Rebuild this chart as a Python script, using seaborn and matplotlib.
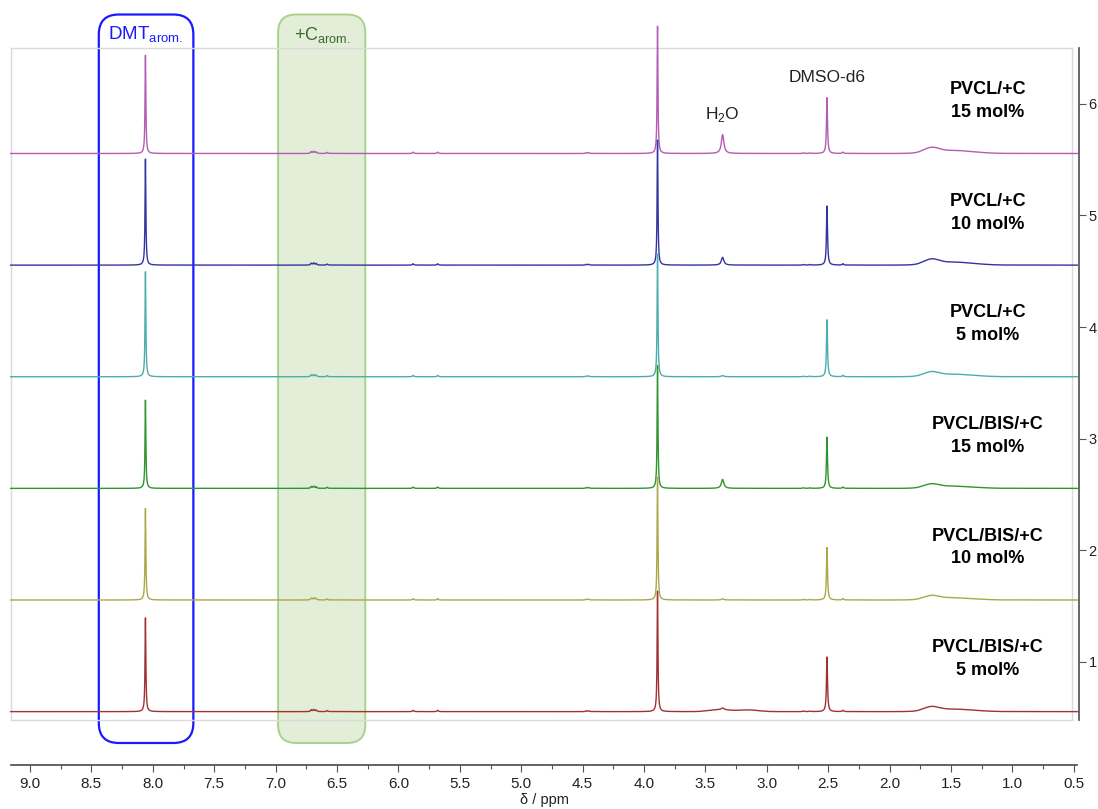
import numpy as np
import pandas as pd
import seaborn as sns
import matplotlib.pyplot as plt
from matplotlib.patches import FancyBboxPatch
from matplotlib.ticker import MultipleLocator, FormatStrFormatter

sns.set_theme(style='white')
plt.rcParams['font.family'] = ['Liberation Sans', 'DejaVu Sans']

# samples, bottom trace first
labels = ['PVCL/BIS/+C\n5 mol%', 'PVCL/BIS/+C\n10 mol%', 'PVCL/BIS/+C\n15 mol%',
          'PVCL/+C\n5 mol%', 'PVCL/+C\n10 mol%', 'PVCL/+C\n15 mol%']
colors = ['#a03232', '#a9a948', '#2f952f', '#4cadad', '#3434a0', '#b35cb3']

# sharp peaks (ppm), heights per trace
dmt_ppm, ome_ppm, dmso_ppm, water_ppm = 8.06, 3.89, 2.51, 3.36
dmt_h = [0.84, 0.82, 0.79, 0.94, 0.95, 0.88]
ome_h = [1.08, 1.10, 1.10, 1.10, 1.12, 1.14]
dmso_h = [0.49, 0.47, 0.46, 0.51, 0.53, 0.50]
water_h = [0.015, 0.01, 0.08, 0.01, 0.07, 0.17]
hump_h = [0.05, 0.045, 0.045, 0.05, 0.06, 0.06]

# small common signals
small_ppm = [6.71, 6.69, 6.67, 6.58, 5.88, 5.68, 4.47, 4.45, 2.70, 2.65, 2.38]
small_h = [0.016, 0.018, 0.015, 0.01, 0.012, 0.012, 0.007, 0.007, 0.005, 0.005, 0.012]

ppm = np.arange(0.47, 9.16, 0.0005)


def lor(x0, h, w):
    return h * w**2 / ((ppm - x0)**2 + w**2)


def gau(x0, h, w):
    return h * np.exp(-0.5 * ((ppm - x0) / w)**2)


spectra = []
for i in range(6):
    y = lor(dmt_ppm, dmt_h[i], 0.004) + lor(ome_ppm, ome_h[i], 0.004)
    y += lor(dmso_ppm, dmso_h[i], 0.005) + lor(water_ppm, water_h[i], 0.012)
    for p, h in zip(small_ppm, small_h):
        y += lor(p, h, 0.006)
    y += gau(1.66, hump_h[i] * 0.7, 0.06) + gau(1.48, hump_h[i] * 0.45, 0.16)
    if i == 0:
        y += gau(3.38, 0.018, 0.08) + gau(3.15, 0.015, 0.08)
    spectra.append(y)

df = pd.DataFrame({'ppm': ppm})
for i, y in enumerate(spectra):
    df[labels[i]] = y + (i + 1) - 0.445

W, H = 1098, 809
fig = plt.figure(figsize=(W / 100, H / 100), dpi=100)

ov = fig.add_axes([0, 0, 1, 1], zorder=0)
ov.set_xlim(0, W)
ov.set_ylim(0, H)
ov.axis('off')

ax = fig.add_axes([11 / W, 1 - 720 / H, 1061 / W, 672 / H], zorder=1)
ax.set_facecolor('none')
ax.set_xlim(9.155, 0.515)
ax.set_ylim(0.48, 6.50)
for i in range(6):
    sns.lineplot(data=df, x='ppm', y=labels[i], ax=ax, color=colors[i], lw=1.0,
                 estimator=None, sort=False, zorder=10 - i, clip_on=False)
    ax.text(1.2, i + 1 - 0.445 + 0.47, labels[i], ha='center', va='center',
            fontsize=13, fontweight='bold', linespacing=1.45, color='black')
ax.set_xticks([])
ax.set_yticks([])
ax.set_xlabel('')
ax.set_ylabel('')
for s in ax.spines.values():
    s.set_color('#dadada')
    s.set_linewidth(1.0)

ax.text(dmso_ppm, 6.24, 'DMSO-d6', ha='center', va='center', fontsize=12.5, color='#222222')
ax.text(water_ppm, 5.90, r'H$_\mathregular{2}$O', ha='center', va='center', fontsize=12.5, color='#222222')
ax.text(dmt_ppm, 6.62, r'DMT$_\mathregular{arom.}$', ha='center', va='center', fontsize=13.5, color='#1a1aff')
ax.text(6.62, 6.62, r'+C$_\mathregular{arom.}$', ha='center', va='center', fontsize=13, color='#3c6a2c')

# right intensity axis
ax2 = ax.twinx()
ax2.set_ylim(ax.get_ylim())
for k in ['top', 'left', 'bottom']:
    ax2.spines[k].set_visible(False)
ax2.spines['right'].set_position(('outward', 5))
ax2.spines['right'].set_color('#555555')
ax2.set_yticks([1, 2, 3, 4, 5, 6])
ax2.tick_params(axis='y', right=True, length=5, width=0.8, color='#555555',
                labelsize=10.5, pad=2, labelcolor='#222222')

# highlight boxes, ppm range converted to pixels
fig.canvas.draw()


def to_px(x, y):
    return ax.transData.transform((x, y))


for (x0, x1), fc, ec, lw, r in [((8.44, 7.67), 'none', '#1a1aff', 1.6, 20),
                                ((6.98, 6.27), '#e2eed8', '#a9d18e', 1.4, 18)]:
    left, top = to_px(x0, 6.80)
    right, bottom = to_px(x1, 0.274)
    ov.add_patch(FancyBboxPatch((left, bottom), right - left, top - bottom,
                                boxstyle=f'round,pad=0,rounding_size={r}',
                                fc=fc, ec=ec, lw=lw))

# bottom ppm axis
ax3 = fig.add_axes([11 / W, 1 - 765 / H, 1066 / W, 0.0001])
ax3.set_facecolor('none')
ax3.set_xlim(9.155, 0.474)
ax3.set_yticks([])
for k in ['top', 'left', 'right']:
    ax3.spines[k].set_visible(False)
ax3.spines['bottom'].set_color('#505050')
ax3.xaxis.set_major_locator(MultipleLocator(0.5))
ax3.xaxis.set_minor_locator(MultipleLocator(0.25))
ax3.xaxis.set_major_formatter(FormatStrFormatter('%.1f'))
ax3.tick_params(axis='x', which='major', bottom=True, length=5, width=0.8, color='#505050',
                labelsize=11, pad=4, labelcolor='#222222')
ax3.tick_params(axis='x', which='minor', bottom=True, length=3, width=0.8, color='#505050')
ax3.set_xlabel('δ / ppm', fontsize=10.5, labelpad=1, color='#222222')

fig.savefig('out.png', dpi=100)
